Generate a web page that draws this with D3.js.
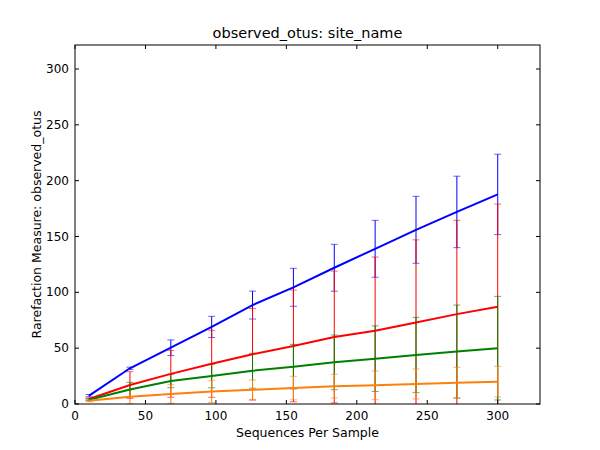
<!DOCTYPE html><html><head><meta charset="utf-8"><script src="https://cdn.jsdelivr.net/npm/d3@7"></script>
<style>body{margin:0;background:#fff}text{font-family:"DejaVu Sans",sans-serif}</style></head><body><svg id="c" width="600" height="450"></svg><script>
const xs=[10,39,68,97,126,155,184,213,242,271,300];
const blueMean=[7.5,32,50.4,69,88.6,104.5,122,139,156,172,187.7];
const blueSd=[1,1,7,9.5,12.5,17,21,25.5,30,32,36];
const redMean=[4.5,17,27,36,44.5,52,60,65.6,73,80.5,87];
const redSd=[1,12,21,30,41,50,59,66,74,84,92];
const greenMean=[3.8,13,20.6,25,29.8,33.4,37.3,40.6,43.9,47,50];
const greenSd=[1,6.4,6,10.5,15.6,20,24.5,29.4,33.7,41.6,46.4];
const orangeMean=[3,6.5,9,11.3,12.8,14.3,16,16.7,17.9,19,20];
const orangeSd=[1,6.3,8.3,9.9,8.7,10.5,10.6,12.8,13.4,13.8,13.7];
const xTicks=[0,50,100,150,200,250,300], yTicks=[0,50,100,150,200,250,300];
const series=[["blue",blueMean,blueSd],["red",redMean,redSd],["green",greenMean,greenSd],["#ff7f0e",orangeMean,orangeSd]];
const svg=d3.select("#c"),L=75,R=540,T=45,B=404;
const x=d3.scaleLinear().domain([0,330]).range([L,R]);
const y=d3.scaleLinear().domain([0,321.5]).range([B,T]);
svg.append("defs").append("clipPath").attr("id","cp").append("rect").attr("x",L).attr("y",T).attr("width",R-L).attr("height",B-T);
const g=svg.append("g").attr("clip-path","url(#cp)");
series.forEach(([c,m,s])=>{
  const eg=g.append("g");
  xs.forEach((xv,i)=>{
    const lo=y(m[i]-s[i]),hi=y(m[i]+s[i]),px=x(xv);
    eg.append("line").attr("x1",px).attr("x2",px).attr("y1",lo).attr("y2",hi).attr("stroke",c).attr("stroke-width",1);
    [lo,hi].forEach(py=>eg.append("line").attr("x1",px-3.5).attr("x2",px+3.5).attr("y1",py).attr("y2",py).attr("stroke",c).attr("stroke-opacity",0.6).attr("stroke-width",1));
  });
});
series.forEach(([c,m])=>{
  g.append("path").attr("d",d3.line().x((d,i)=>x(xs[i])).y(d=>y(d))(m)).attr("fill","none").attr("stroke",c).attr("stroke-width",2);
});
const ax=svg.append("g");
ax.append("rect").attr("x",L).attr("y",T).attr("width",R-L).attr("height",B-T).attr("fill","none").attr("stroke","#000");
xTicks.forEach(t=>{const px=x(t);
  ax.append("line").attr("x1",px).attr("x2",px).attr("y1",B).attr("y2",B-4).attr("stroke","#000");
  ax.append("line").attr("x1",px).attr("x2",px).attr("y1",T).attr("y2",T+4).attr("stroke","#000");
  ax.append("text").attr("x",px).attr("y",B+16).attr("text-anchor","middle").attr("font-size",12).text(t);});
yTicks.forEach(t=>{const py=y(t);
  ax.append("line").attr("x1",L).attr("x2",L+4).attr("y1",py).attr("y2",py).attr("stroke","#000");
  ax.append("line").attr("x1",R).attr("x2",R-4).attr("y1",py).attr("y2",py).attr("stroke","#000");
  ax.append("text").attr("x",L-6).attr("y",py+4).attr("text-anchor","end").attr("font-size",12).text(t);});
svg.append("text").attr("x",(L+R)/2).attr("y",T-7).attr("text-anchor","middle").attr("font-size",14.5).text("observed_otus: site_name");
svg.append("text").attr("x",(L+R)/2).attr("y",437).attr("text-anchor","middle").attr("font-size",12.5).text("Sequences Per Sample");
svg.append("text").attr("transform",`translate(41,${(T+B)/2}) rotate(-90)`).attr("text-anchor","middle").attr("font-size",12.5).text("Rarefaction Measure: observed_otus");
</script></body></html>
